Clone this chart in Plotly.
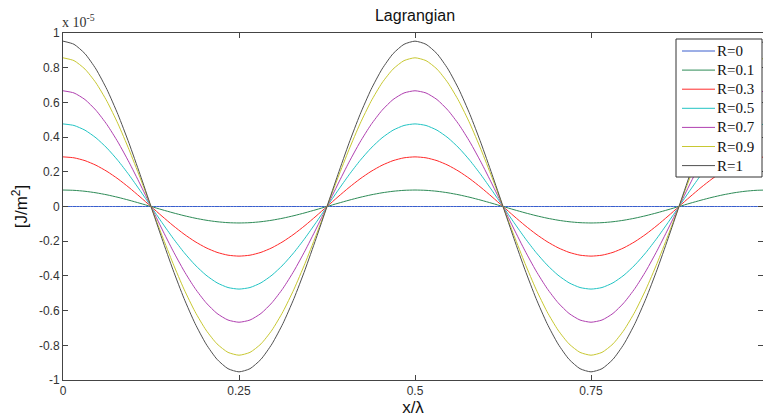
import plotly.graph_objects as go

# Position along the wave, in wavelengths
x_pos = [k / 64 for k in range(65)]

# Normalised profile of the Lagrangian along x/λ (one value per x_pos)
shape = [1.000, 0.981, 0.924, 0.831, 0.707, 0.556, 0.383, 0.195, 0.000,
         -0.195, -0.383, -0.556, -0.707, -0.831, -0.924, -0.981, -1.000,
         -0.981, -0.924, -0.831, -0.707, -0.556, -0.383, -0.195, 0.000,
         0.195, 0.383, 0.556, 0.707, 0.831, 0.924, 0.981, 1.000,
         0.981, 0.924, 0.831, 0.707, 0.556, 0.383, 0.195, 0.000,
         -0.195, -0.383, -0.556, -0.707, -0.831, -0.924, -0.981, -1.000,
         -0.981, -0.924, -0.831, -0.707, -0.556, -0.383, -0.195, 0.000,
         0.195, 0.383, 0.556, 0.707, 0.831, 0.924, 0.981, 1.000]

# Reflection coefficients and the peak Lagrangian for each (x 1e-5 J/m^2)
r_labels = ["R=0", "R=0.1", "R=0.3", "R=0.5", "R=0.7", "R=0.9", "R=1"]
peaks = [0.0, 0.095, 0.286, 0.476, 0.667, 0.857, 0.953]
colors = ["#3a5fcd", "#2e8b57", "#ff2a2a", "#22c4c4", "#b040b0", "#c8c832", "#505050"]

x_ticks = [0, 0.25, 0.5, 0.75]
x_tick_text = ["0", "0.25", "0.5", "0.75"]
y_ticks = [-1, -0.8, -0.6, -0.4, -0.2, 0, 0.2, 0.4, 0.6, 0.8, 1]
y_tick_text = ["-1", "-0.8", "-0.6", "-0.4", "-0.2", "0", "0.2", "0.4", "0.6", "0.8", "1"]

W, H = 763, 418
M_L, M_R, M_T, M_B = 63, 0, 33, 38
PW, PH = W - M_L - M_R, H - M_T - M_B

SANS = "Liberation Sans, Arial, sans-serif"
SERIF = "Liberation Serif, Times New Roman, serif"

fig = go.Figure()
for name, peak, col in zip(r_labels, peaks, colors):
    fig.add_trace(go.Scatter(
        x=x_pos, y=[peak * s for s in shape], mode="lines", name=name,
        line=dict(color=col, width=1, shape="spline", smoothing=0.6),
        showlegend=False,
    ))

axis_common = dict(
    showgrid=False, zeroline=False, showline=True, linecolor="#444444", linewidth=1,
    mirror="ticks", ticks="inside", ticklen=5, tickcolor="#444444",
    tickfont=dict(family=SANS, size=12, color="#333333"),
)


def px_x(p):
    return (p - M_L) / PW


def px_y(p):
    return 1 - (p - M_T) / PH


# Boxed legend in the top-right corner of the axes
shapes = [dict(type="rect", xref="paper", yref="paper",
               x0=px_x(676), x1=px_x(762), y0=px_y(177), y1=px_y(39),
               line=dict(color="#333333", width=1), fillcolor="white", layer="above")]
annotations = []
for i, (name, col) in enumerate(zip(r_labels, colors)):
    yc = 51 + i * 19.1
    shapes.append(dict(type="line", xref="paper", yref="paper",
                       x0=px_x(682), x1=px_x(715), y0=px_y(yc), y1=px_y(yc),
                       line=dict(color=col, width=1), layer="above"))
    annotations.append(dict(text=name, xref="paper", yref="paper",
                            x=px_x(716), y=px_y(yc), xanchor="left", yanchor="middle",
                            showarrow=False, borderpad=0,
                            font=dict(family=SERIF, size=15, color="#111111")))

annotations.append(dict(text="x 10<sup>-5</sup>", xref="paper", yref="paper",
                        x=0, y=1, xanchor="left", yanchor="bottom", yshift=1, xshift=-3,
                        showarrow=False,
                        font=dict(family=SERIF, size=14, color="#333333")))

fig.update_layout(
    width=W, height=H,
    margin=dict(l=M_L, r=M_R, t=M_T, b=M_B),
    paper_bgcolor="white", plot_bgcolor="white",
    title=dict(text="Lagrangian", x=415 / W, xanchor="center", y=1 - 15 / H,
               yanchor="middle", font=dict(family=SANS, size=16, color="#111111")),
    xaxis=dict(range=[0, 0.9943], tickvals=x_ticks, ticktext=x_tick_text,
               title=dict(text="x/λ", standoff=0,
                          font=dict(family=SANS, size=17, color="#111111")),
               **axis_common),
    yaxis=dict(range=[-1, 1], tickvals=y_ticks, ticktext=y_tick_text,
               title=dict(text="[J/m<sup>2</sup>]", standoff=6,
                          font=dict(family=SANS, size=17, color="#111111")),
               **axis_common),
    showlegend=False,
    shapes=shapes,
    annotations=annotations,
)

fig.write_html("out.html")
